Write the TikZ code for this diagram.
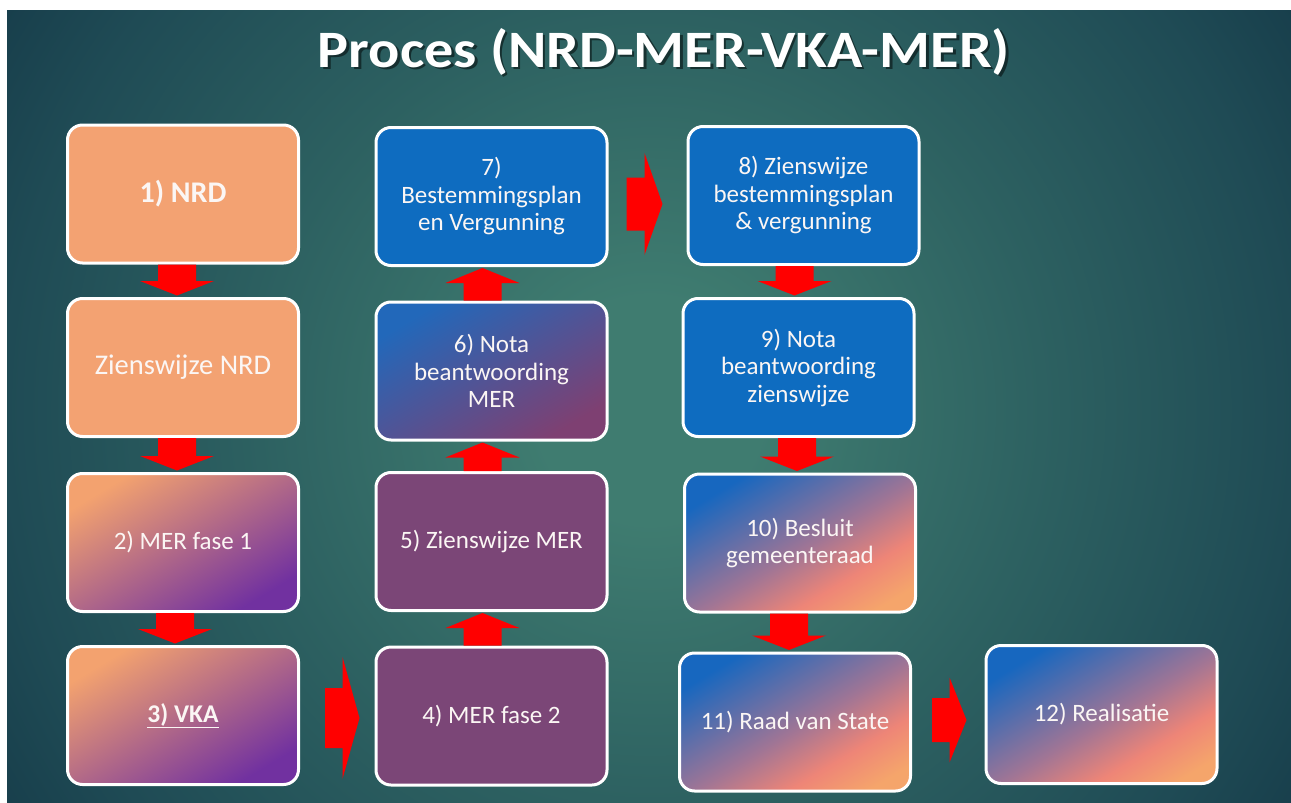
\documentclass[tikz,border=0pt]{standalone}
\usepackage{fontspec}
\setmainfont{Carlito}
\newfontfamily\titlefont{Carlito}
\usetikzlibrary{calc}

\definecolor{bgA}{HTML}{3F7C70}
\definecolor{bgB}{HTML}{2D6161}
\definecolor{bgC}{HTML}{1F4B55}
\definecolor{bgD}{HTML}{183F4C}
\definecolor{orangeBox}{HTML}{F3A272}
\definecolor{orA}{HTML}{F3A26F}
\definecolor{purA}{HTML}{7131A0}
\definecolor{mauveBox}{HTML}{7B4677}
\definecolor{bsA}{HTML}{2268BA}
\definecolor{bsB}{HTML}{7E4072}
\definecolor{blueBox}{HTML}{0E6CC0}
\definecolor{gA}{HTML}{1767BF}
\definecolor{gB}{HTML}{A07595}
\definecolor{gC}{HTML}{EE8577}
\definecolor{gD}{HTML}{F5A56B}
\definecolor{textWhite}{HTML}{FBF6F4}

\pgfdeclareradialshading{bgshade}{\pgfpoint{0bp}{0bp}}{color(0bp)=(bgA); color(4bp)=(bgA); color(14bp)=(bgB); color(23bp)=(bgC); color(27bp)=(bgD); color(50bp)=(bgD)}
\pgfdeclarehorizontalshading{orpur}{100bp}{color(0bp)=(orA); color(25bp)=(orA); color(75bp)=(purA); color(100bp)=(purA)}
\pgfdeclarehorizontalshading{bluepur}{100bp}{color(0bp)=(bsA); color(25bp)=(bsA); color(75bp)=(bsB); color(100bp)=(bsB)}
\pgfdeclarehorizontalshading{bluesal}{100bp}{color(0bp)=(gA); color(25bp)=(gA); color(52bp)=(gB); color(66bp)=(gC); color(78bp)=(gD); color(100bp)=(gD)}

\newcommand{\downblock}[3]{%
  \fill[arrowred] let \p1=(#1.south), \p2=($(#2.north)+(#3,0)$) in
    (\x2-19pt,\y1) -- (\x2-19pt,\y2+16pt) -- (\x2-37pt,\y2+16pt) -- (\x2,\y2+1.5pt)
    -- (\x2+37pt,\y2+16pt) -- (\x2+19pt,\y2+16pt) -- (\x2+19pt,\y1) -- cycle;}
\newcommand{\upblock}[3]{%
  \fill[arrowred] let \p1=(#1.north), \p2=($(#2.south)+(#3,0)$) in
    (\x2-19pt,\y1) -- (\x2-19pt,\y2-16pt) -- (\x2-37pt,\y2-16pt) -- (\x2,\y2-1pt)
    -- (\x2+37pt,\y2-16pt) -- (\x2+19pt,\y2-16pt) -- (\x2+19pt,\y1) -- cycle;}
% from, to, start offset, tip gap, dy, shaft half, head half, head length
\newcommand{\rightblock}[8]{%
  \fill[arrowred] let \p1=($(#1.east)+(#3,#5)$), \p2=($(#2.west)+(-#4,0)$) in
    (\x1,\y1-#6pt) -- (\x2-#8pt,\y1-#6pt) -- (\x2-#8pt,\y1-#7pt) -- (\x2,\y1)
    -- (\x2-#8pt,\y1+#7pt) -- (\x2-#8pt,\y1+#6pt) -- (\x1,\y1+#6pt) -- cycle;}

\begin{document}
\begin{tikzpicture}[x=1pt,y=1pt,
  box/.style={draw=white, line width=3pt, rounded corners=15pt,
    minimum width=231pt, minimum height=138pt, inner sep=0pt,
    align=center, text=textWhite, font=\fontsize{25}{27.5}\selectfont},
  orangefill/.style={fill=orangeBox},
  orpurfill/.style={shading=orpur, shading angle=-59},
  mauvefill/.style={fill=mauveBox},
  bluepurfill/.style={shading=bluepur, shading angle=-59},
  bluefill/.style={fill=blueBox},
  bluesalfill/.style={shading=bluesal, shading angle=-59},
  arrowred/.style={fill=red},
]
\useasboundingbox (0,0) rectangle (1291,-803);
\fill[white] (0,0) rectangle (1291,-803);
\begin{scope}
  \clip (7,-10) rectangle (1291,-803);
  \shade[shading=bgshade] (-50,-1110) rectangle (1350,290);
\end{scope}

% title
\node[anchor=base, text=black, text opacity=0.5, inner sep=0pt] (titleshadow) at (666.5,-69.5)
  {\resizebox{692pt}{39pt}{\titlefont\bfseries Proces (NRD-MER-VKA-MER)}};
\node[anchor=base, text=white, inner sep=0pt] (title) at (664,-67)
  {\resizebox{692pt}{39pt}{\titlefont\bfseries Proces (NRD-MER-VKA-MER)}};

% column 1
\node[box, orangefill, font=\fontsize{30}{33}\selectfont\bfseries] (b1) at (183,-194) {1) NRD};
\node[box, orangefill, font=\fontsize{28.5}{31}\selectfont] (bz) at (183,-367.5) {Zienswijze NRD};
\node[box, orpurfill] (b2) at (183,-542.5) {2) MER fase 1};
\node[box, orpurfill, font=\fontsize{25.5}{28}\selectfont\bfseries] (b3) at (183,-715.5) {\underline{3) VKA}};

% column 2
\node[box, mauvefill] (b4) at (491.5,-716) {4) MER fase 2};
\node[box, mauvefill] (b5) at (491.5,-541.5) {5) Zienswijze MER};
\node[box, bluepurfill] (b6) at (491.5,-371) {6) Nota\\beantwoording\\MER};
\node[box, bluefill] (b7) at (491.5,-196.5) {7)\\Bestemmingsplan\\en Vergunning};

% column 3
\node[box, bluefill] (b8) at (803.5,-195.5) {8) Zienswijze\\bestemmingsplan\\\& vergunning};
\node[box, bluefill] (b9) at (798.5,-367.5) {9) Nota\\beantwoording\\zienswijze};
\node[box, bluesalfill] (b10) at (800,-543) {10) Besluit\\gemeenteraad};
\node[box, bluesalfill] (b11) at (795,-722) {11) Raad van State};
\node[box, bluesalfill] (b12) at (1101.5,-714.5) {12) Realisatie};

% arrows
\downblock{b1}{bz}{-6}
\downblock{bz}{b2}{-6}
\downblock{b2}{b3}{-8}
\rightblock{b3}{b4}{25}{15}{-2.5}{30}{61}{17}
\upblock{b4}{b5}{-9}
\upblock{b5}{b6}{-9}
\upblock{b6}{b7}{-9}
\rightblock{b7}{b8}{18}{24}{-7.5}{26.5}{51}{18}
\downblock{b8}{b9}{-4}
\downblock{b9}{b10}{-3}
\downblock{b10}{b11}{-6}
\rightblock{b11}{b12}{20}{18}{2}{22}{42.5}{17}
\end{tikzpicture}
\end{document}
